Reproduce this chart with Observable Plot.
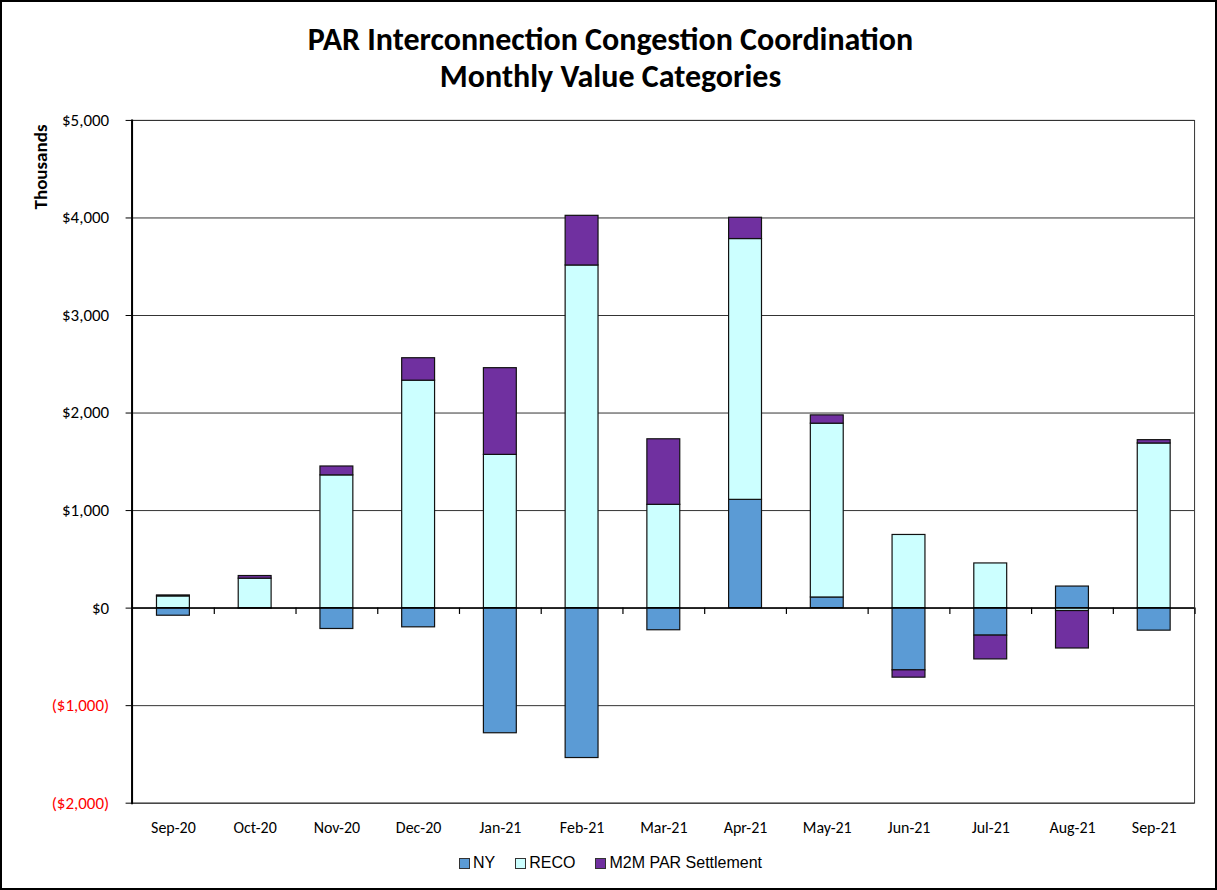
<!DOCTYPE html>
<html>
<head>
<meta charset="utf-8">
<script src="https://cdn.jsdelivr.net/npm/d3@7"></script>
<script src="https://cdn.jsdelivr.net/npm/@observablehq/plot@0.6"></script>
<style>
  html, body { margin: 0; padding: 0; background: #fff; }
  #page { position: relative; width: 1217px; height: 890px; box-sizing: border-box; border: 2px solid #000; overflow: hidden; }
  #title { position: absolute; left: 0; top: 19px; width: 1217px; text-align: center; font-family: Carlito, Calibri, Lato, "Open Sans", sans-serif; font-weight: bold; font-size: 32px; line-height: 37px; color: #000; }
  #ylab { position: absolute; left: 38px; top: 165px; transform: translate(-50%, -50%) rotate(-90deg); font-family: Carlito, Calibri, Lato, sans-serif; font-weight: bold; font-size: 19px; color: #000; white-space: nowrap; }
  #chart { position: absolute; left: -2px; top: 98px; }
  #legend { position: absolute; left: 0; top: 852px; width: 1217px; display: flex; justify-content: center; gap: 20px; font-family: "Liberation Sans", Arial, sans-serif; font-size: 16px; color: #000; }
  .item { display: flex; align-items: center; gap: 3px; }
  .sw { width: 9px; height: 9px; border: 1.5px solid #333; }
</style>
</head>
<body>
<div id="page">
  <div id="title">PAR Interconnection Congestion Coordination<br>Monthly Value Categories</div>
  <div id="ylab">Thousands</div>
  <div id="chart"></div>
  <div id="legend"></div>
</div>
<script>
const months = ["Sep-20","Oct-20","Nov-20","Dec-20","Jan-21","Feb-21","Mar-21","Apr-21","May-21","Jun-21","Jul-21","Aug-21","Sep-21"];
const seriesNames = ["NY","RECO","M2M PAR Settlement"];
const seriesColors = ["#5B9BD5","#CCFFFF","#7030A0"];
const ny   = [-78, -5, -214, -197, -1283, -1537, -227, 1110, 109, -638, -282, 221, -231];
const reco = [120, 302, 1361, 2332, 1571, 3513, 1059, 2674, 1782, 750, 458, -30, 1688];
const m2m  = [10, 27, 91, 230, 889, 509, 672, 218, 85, -75, -244, -384, 34];
const yTicks = [-2000,-1000,0,1000,2000,3000,4000,5000];

const seriesValues = [ny, reco, m2m];
const rows = [];
seriesNames.forEach((s, si) => months.forEach((m, mi) => rows.push({month: m, series: s, value: seriesValues[si][mi]})));

const fmt = d => d < 0 ? `($${d3.format(",")(-d)})` : `$${d3.format(",")(d)}`;
const W = 1219, H = 747, mL = 132, mR = 21, mT = 20, mB = 42;
const step = (W - mL - mR) / months.length;
const tickFont = "Carlito, Calibri, Lato, sans-serif";

const chart = Plot.plot({
  width: W, height: H,
  marginLeft: mL, marginRight: mR, marginTop: mT, marginBottom: mB,
  style: {fontFamily: tickFont, fontSize: "16px", color: "#000", background: "transparent"},
  x: {type: "band", domain: months, paddingInner: 0.6, paddingOuter: 0.3, label: null},
  y: {domain: [-2000, 5000], label: null},
  color: {domain: seriesNames, range: seriesColors},
  marks: [
    Plot.gridY(yTicks, {stroke: "#333", strokeOpacity: 1, strokeWidth: 1}),
    Plot.frame({stroke: "#333", strokeWidth: 1}),
    Plot.barY(rows, Plot.stackY({x: "month", y: "value", fill: "series", order: seriesNames, stroke: "#111", strokeWidth: 1.2})),
    Plot.ruleY([0], {stroke: "#000", strokeWidth: 1.5}),
    Plot.ruleX(months, {x: d => d, dx: step / 2, y1: 0, y2: -65, stroke: "#000", strokeWidth: 1.2}),
    Plot.frame({anchor: "left", stroke: "#000", strokeWidth: 2}),
    Plot.axisY(yTicks.filter(d => d >= 0), {tickSize: 6, tickPadding: 17, tickFormat: fmt, fill: "#000", stroke: "#000", fontSize: 17, label: null}),
    Plot.axisY(yTicks.filter(d => d < 0), {tickSize: 6, tickPadding: 17, tickFormat: fmt, fill: "#ff0000", stroke: "#000", fontSize: 17, label: null}),
    Plot.axisX(months, {tickSize: 0, tickPadding: 19, fontSize: 16, fill: "#000", label: null})
  ]
});
document.getElementById("chart").appendChild(chart);

const legend = document.getElementById("legend");
seriesNames.forEach((s, i) => {
  const it = document.createElement("div");
  it.className = "item";
  const sw = document.createElement("div");
  sw.className = "sw";
  sw.style.background = seriesColors[i];
  const t = document.createElement("span");
  t.textContent = s;
  it.appendChild(sw); it.appendChild(t);
  legend.appendChild(it);
});
</script>
</body>
</html>
